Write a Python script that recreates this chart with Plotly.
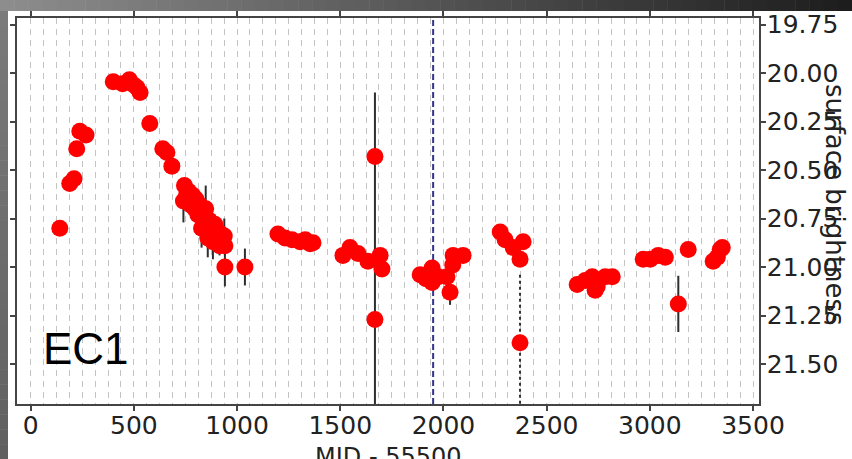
import plotly.graph_objects as go

# Light curve: epoch (MJD - 55500), surface brightness and its 1-sigma error
mjd = [141, 189, 210, 223, 238, 268,
       400, 445, 478, 498, 515, 530,
       577, 640, 660, 684,
       745, 755, 740, 765, 775, 785, 795, 800, 810, 820, 828, 835, 848, 852,
       858, 866, 875, 883, 892, 900, 908, 915, 922, 930, 938, 941,
       941, 1038,
       1198, 1232, 1266, 1305, 1330, 1354, 1368,
       1513, 1547, 1586, 1634, 1693, 1702, 1668, 1668,
       1887, 1915, 1945, 1945, 1975, 2017, 2032, 2045, 2047, 2095,
       2275, 2299, 2338, 2371, 2386, 2371,
       2648, 2687, 2721, 2735, 2745, 2784, 2818,
       2968, 3002, 3041, 3075, 3186, 3138,
       3307, 3327, 3341, 3351]
sb = [20.80, 20.57, 20.545, 20.39, 20.30, 20.32,
      20.045, 20.055, 20.035, 20.06, 20.075, 20.10,
      20.26, 20.39, 20.41, 20.48,
      20.58, 20.63, 20.66, 20.61, 20.68, 20.63, 20.70, 20.65, 20.73, 20.68, 20.80, 20.72, 20.70, 20.80,
      20.85, 20.76, 20.82, 20.87, 20.78, 20.86, 20.82, 20.89, 20.83, 20.87, 20.84, 20.89,
      21.00, 21.00,
      20.83, 20.85, 20.86, 20.87, 20.86, 20.88, 20.875,
      20.94, 20.90, 20.93, 20.97, 20.94, 21.01, 20.43, 21.27,
      21.04, 21.06, 21.005, 21.08, 21.05, 21.05, 21.13, 20.99, 20.94, 20.94,
      20.82, 20.86, 20.90, 20.96, 20.87, 21.39,
      21.09, 21.07, 21.05, 21.12, 21.10, 21.05, 21.05,
      20.96, 20.96, 20.94, 20.95, 20.91, 21.19,
      20.97, 20.95, 20.91, 20.90]
sb_err = [0.02, 0.02, 0.02, 0.02, 0.02, 0.02,
          0.02, 0.02, 0.02, 0.02, 0.02, 0.02,
          0.02, 0.02, 0.02, 0.02,
          0.04, 0.04, 0.11, 0.04, 0.05, 0.04, 0.05, 0.04, 0.05, 0.05, 0.10, 0.05, 0.12, 0.05,
          0.10, 0.05, 0.05, 0.09, 0.05, 0.05, 0.05, 0.05, 0.05, 0.05, 0.09, 0.05,
          0.10, 0.095,
          0.03, 0.03, 0.03, 0.03, 0.03, 0.03, 0.03,
          0.03, 0.03, 0.03, 0.03, 0.03, 0.03, 0.0, 1.17,
          0.03, 0.03, 0.03, 0.03, 0.03, 0.03, 0.065, 0.03, 0.03, 0.03,
          0.03, 0.03, 0.03, 0.03, 0.03, 0.0,
          0.03, 0.03, 0.03, 0.03, 0.03, 0.03, 0.03,
          0.03, 0.03, 0.03, 0.03, 0.03, 0.145,
          0.03, 0.03, 0.03, 0.03]

# Epoch whose error estimate is drawn as a dotted bar
dotted_mjd = [2371]
dotted_sb = [21.39]
dotted_err = [0.35]

ref_mjd = 1950  # reference epoch marked with a dashed line

x_ticks = [0, 500, 1000, 1500, 2000, 2500, 3000, 3500]
y_ticks = [19.75, 20.00, 20.25, 20.50, 20.75, 21.00, 21.25, 21.50]
y_tick_labels = [f"{v:.2f}" for v in y_ticks]

panel_label = "EC1"
x_title = "MJD - 55500"
y_title = "surface brightness"

# Figure geometry (pixels)
W, H = 852, 459
ML, MR, MT, MB = 17, 93, 18, 55
PW, PH = W - ML - MR, H - MT - MB


def px_x(px):
    return (px - ML) / PW


def px_y(py):
    return (H - MB - py) / PH


def grey(v):
    v = int(round(v))
    return f"rgb({v},{v},{v})"


fig = go.Figure()

# dotted error bar
for x0, y0, e in zip(dotted_mjd, dotted_sb, dotted_err):
    fig.add_trace(go.Scatter(
        x=[x0, x0], y=[y0 - e, y0 + e], mode="lines",
        line=dict(color="#333333", width=2, dash="dot"),
        hoverinfo="skip", showlegend=False, cliponaxis=True))

fig.add_trace(go.Scatter(
    x=mjd, y=sb, mode="markers",
    marker=dict(color="#ff0000", size=17, line=dict(width=0)),
    error_y=dict(type="data", array=sb_err, visible=True,
                 color="#2e2e2e", thickness=2, width=0),
    showlegend=False))

shapes = []
# window backdrop: top strip and left strip with grey gradients
n = 60
for i in range(n):
    x0 = W * i / n
    x1 = W * (i + 1) / n + 0.5
    g = 142 - (142 - 28) * (i + 0.5) / n
    shapes.append(dict(type="rect", xref="paper", yref="paper",
                       x0=px_x(x0), x1=px_x(x1), y0=px_y(11), y1=px_y(0),
                       fillcolor=grey(g), line=dict(width=0), layer="below"))
m = 30
for i in range(m):
    y0 = 11 + (H - 11) * i / m
    y1 = 11 + (H - 11) * (i + 1) / m + 0.5
    g = 122 - (122 - 96) * (i + 0.5) / m
    shapes.append(dict(type="rect", xref="paper", yref="paper",
                       x0=px_x(0), x1=px_x(8), y0=px_y(y1), y1=px_y(y0),
                       fillcolor=grey(g), line=dict(width=0), layer="below"))

# reference epoch
shapes.append(dict(type="line", xref="x", yref="paper", x0=ref_mjd, x1=ref_mjd,
                   y0=0, y1=1, line=dict(color="#34348c", width=2, dash="6px,3px"),
                   layer="between"))

fig.update_layout(
    width=W, height=H,
    margin=dict(l=ML, r=MR, t=MT, b=MB, pad=0),
    paper_bgcolor="white", plot_bgcolor="white",
    font=dict(family="DejaVu Sans", color="#222222", size=24),
    shapes=shapes,
    xaxis=dict(
        range=[-66.4, 3529], tickvals=x_ticks, ticktext=[str(v) for v in x_ticks],
        ticks="outside", ticklen=5, tickwidth=1.5, tickcolor="#444444",
        showline=True, linecolor="#444444", linewidth=1.5, mirror="allticks",
        showgrid=True, gridcolor="#c4c4c4", gridwidth=1.3, griddash="6px,5px",
        minor=dict(tick0=0, dtick=62.5, showgrid=True, gridcolor="#c4c4c4",
                   gridwidth=1.3, griddash="6px,5px", ticks=""),
        zeroline=False, automargin=False, ticklabelstandoff=-7,
        tickfont=dict(size=25, color="#222222"),
    ),
    yaxis=dict(
        range=[21.706, 19.7165], side="right",
        tickvals=y_ticks, ticktext=y_tick_labels,
        ticks="outside", ticklen=5, tickwidth=1.5, tickcolor="#444444",
        showline=True, linecolor="#444444", linewidth=1.5, mirror="allticks",
        showgrid=False, zeroline=False, automargin=False, ticklabelstandoff=-4,
        tickfont=dict(size=25, color="#222222"),
    ),
    annotations=[
        dict(text=panel_label, xref="paper", yref="paper",
             x=px_x(41), y=px_y(348), xanchor="left", yanchor="middle",
             showarrow=False,
             font=dict(family="Liberation Sans", size=44, color="#000000")),
        dict(text=y_title, xref="paper", yref="paper",
             x=px_x(835), y=px_y(205), xanchor="center", yanchor="middle",
             textangle=90, showarrow=False,
             font=dict(family="DejaVu Sans", size=26, color="#222222")),
        dict(text=x_title, xref="paper", yref="paper",
             x=0.5, y=px_y(441), xanchor="center", yanchor="top",
             showarrow=False,
             font=dict(family="DejaVu Sans", size=24, color="#222222")),
    ],
)

fig.write_html("out.html")
